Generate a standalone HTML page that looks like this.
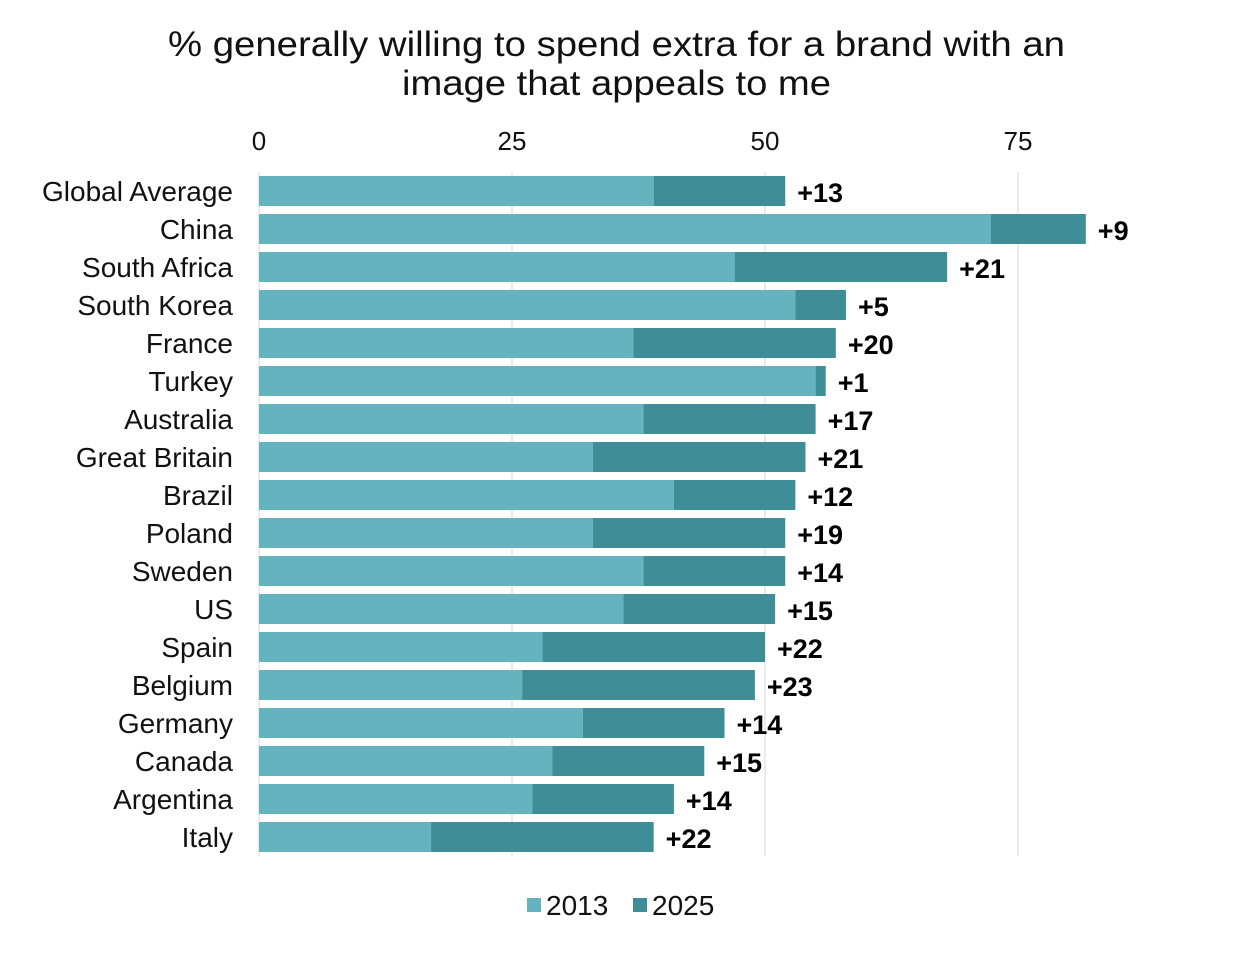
<!DOCTYPE html>
<html><head><meta charset="utf-8">
<style>
html,body{margin:0;padding:0;background:#fff;}
body{width:1242px;height:948px;overflow:hidden;font-family:"Liberation Sans",Arial,sans-serif;}
</style></head>
<body>
<svg id="chart" width="1242" height="948" xmlns="http://www.w3.org/2000/svg" font-family="Liberation Sans, Arial, sans-serif">
<text x="168" y="56" font-size="35" fill="#111" textLength="897" lengthAdjust="spacingAndGlyphs">% generally willing to spend extra for a brand with an</text>
<text x="402" y="95" font-size="35" fill="#111" textLength="429" lengthAdjust="spacingAndGlyphs">image that appeals to me</text>
<g id="grid"></g><g id="bars"></g><g id="labels"></g>
<g>
<rect x="527" y="898" width="14" height="14" fill="#65b3be"/>
<text x="546" y="915" font-size="28" fill="#111">2013</text>
<rect x="633" y="898" width="14" height="14" fill="#3f8e97"/>
<text x="652" y="915" font-size="28" fill="#111">2025</text>
</g>
</svg>
<script>
const categories = ["Global Average","China","South Africa","South Korea","France","Turkey","Australia","Great Britain","Brazil","Poland","Sweden","US","Spain","Belgium","Germany","Canada","Argentina","Italy"];
const values2013 = [39,72.3,47,53,37,55,38,33,41,33,38,36,28,26,32,29,27,17];
const values2025 = [52,81.7,68,58,57,56,55,54,53,52,52,51,50,49,46,44,41,39];
const ticks = [0,25,50,75];
const NS="http://www.w3.org/2000/svg";
const x0=259, pxPer=(1018-259)/75;
const xs=v=>x0+v*pxPer;
const y0=191, step=38, bh=30;
const ys=i=>y0+i*step;
function mk(tag,attrs,parent){const e=document.createElementNS(NS,tag);for(const k in attrs)e.setAttribute(k,attrs[k]);parent.appendChild(e);return e;}
const grid=document.getElementById('grid'),bars=document.getElementById('bars'),labels=document.getElementById('labels');
ticks.forEach(t=>{
  if(t>0){const l=mk('line',{x1:xs(t),x2:xs(t),y1:172,y2:856,stroke:'#d9d9d9','stroke-width':1},grid);
  
  }
  const tx=mk('text',{x:xs(t),y:150,'text-anchor':'middle','font-size':26,fill:'#111'},grid);
  tx.textContent=t;
  
  
});
const ax=mk('line',{x1:x0,x2:x0,y1:172,y2:856,stroke:'#d9d9d9','stroke-width':1},grid);


categories.forEach((c,i)=>{
  const cy=ys(i);
  const a=values2013[i], b=values2025[i];
  const r1=mk('rect',{x:xs(0),y:cy-bh/2,width:xs(a)-xs(0),height:bh,fill:'#65b3be'},bars);
  
  
  const r2=mk('rect',{x:xs(a),y:cy-bh/2,width:Math.max(0,xs(b)-xs(a)),height:bh,fill:'#3f8e97'},bars);
  
  
  const lab=mk('text',{x:233,y:cy+10,'text-anchor':'end','font-size':28,fill:'#111'},labels);
  lab.textContent=c;
  
  
  const d=Math.round(b-a);
  const dl=mk('text',{x:xs(b)+12,y:cy+11,'font-size':27,'font-weight':'bold',fill:'#000'},labels);
  dl.textContent=(d>=0?'+':'')+d;
  
  
});
</script>
</body></html>
